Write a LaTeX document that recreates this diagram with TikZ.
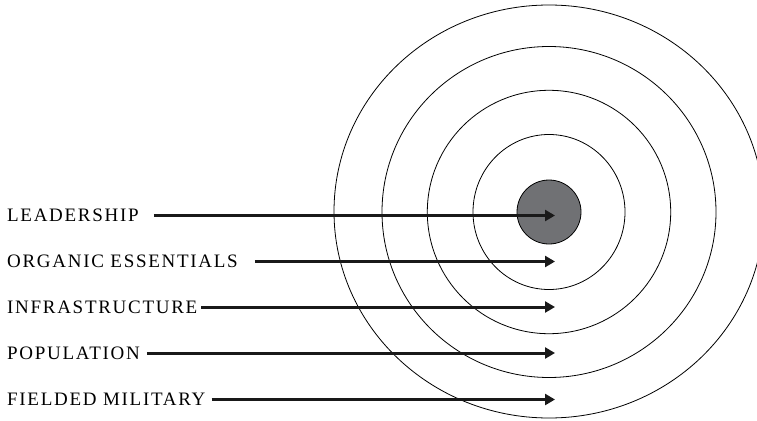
\documentclass[tikz,border=0pt]{standalone}
\usepackage{fontspec}
\usetikzlibrary{arrows.meta}
\newfontfamily\ringfont{Liberation Serif}[LetterSpace=9]
\definecolor{coregrey}{HTML}{707174}

\begin{document}
\begin{tikzpicture}[x=1pt, y=-1pt,
  ring/.style={draw=black, line width=0.8pt},
  lbl/.style={anchor=west, inner sep=0pt, font=\ringfont\fontsize{19}{21}\selectfont},
  hit/.style={-{Triangle[length=10pt, width=11pt]}, line width=3pt, black!90}]
  \useasboundingbox (0,0) rectangle (757,420);
  \clip (0,0) rectangle (757,420);
  % rings, outside in
  \draw[ring] (549,211.5) ellipse [x radius=215, y radius=206.5];
  \draw[ring] (549,212) ellipse [x radius=167, y radius=165.5];
  \draw[ring] (549,212) circle [radius=121.7];
  \draw[ring] (549,212) ellipse [x radius=76, y radius=77.5];
  \node[circle, draw, line width=0.8pt, fill=coregrey, minimum size=64pt, inner sep=0pt] (core) at (549,212) {};
  % labels
  \node[lbl] (lead)  at (7,215.5) {LEADERSHIP};
  \node[lbl] (org)   at (7,261.5) {ORGANIC ESSENTIALS};
  \node[lbl] (infra) at (7,307)   {INFRASTRUCTURE};
  \node[lbl] (pop)   at (7,353)   {POPULATION};
  \node[lbl] (mil)   at (7,399.5) {FIELDED MILITARY};
  % arrow tips
  \coordinate (t1) at (555,215);
  \coordinate (t2) at (555,261);
  \coordinate (t3) at (555,306.5);
  \coordinate (t4) at (555,352.5);
  \coordinate (t5) at (555,399);
  \draw[hit, shorten <=15pt] (lead.east)  -- (lead.east -| t1);
  \draw[hit, shorten <=17pt] (org.east)   -- (org.east -| t2);
  \draw[hit, shorten <=4pt]  (infra.east) -- (infra.east -| t3);
  \draw[hit, shorten <=7pt]  (pop.east)   -- (pop.east -| t4);
  \draw[hit, shorten <=6pt]  (mil.east)   -- (mil.east -| t5);
\end{tikzpicture}
\end{document}
